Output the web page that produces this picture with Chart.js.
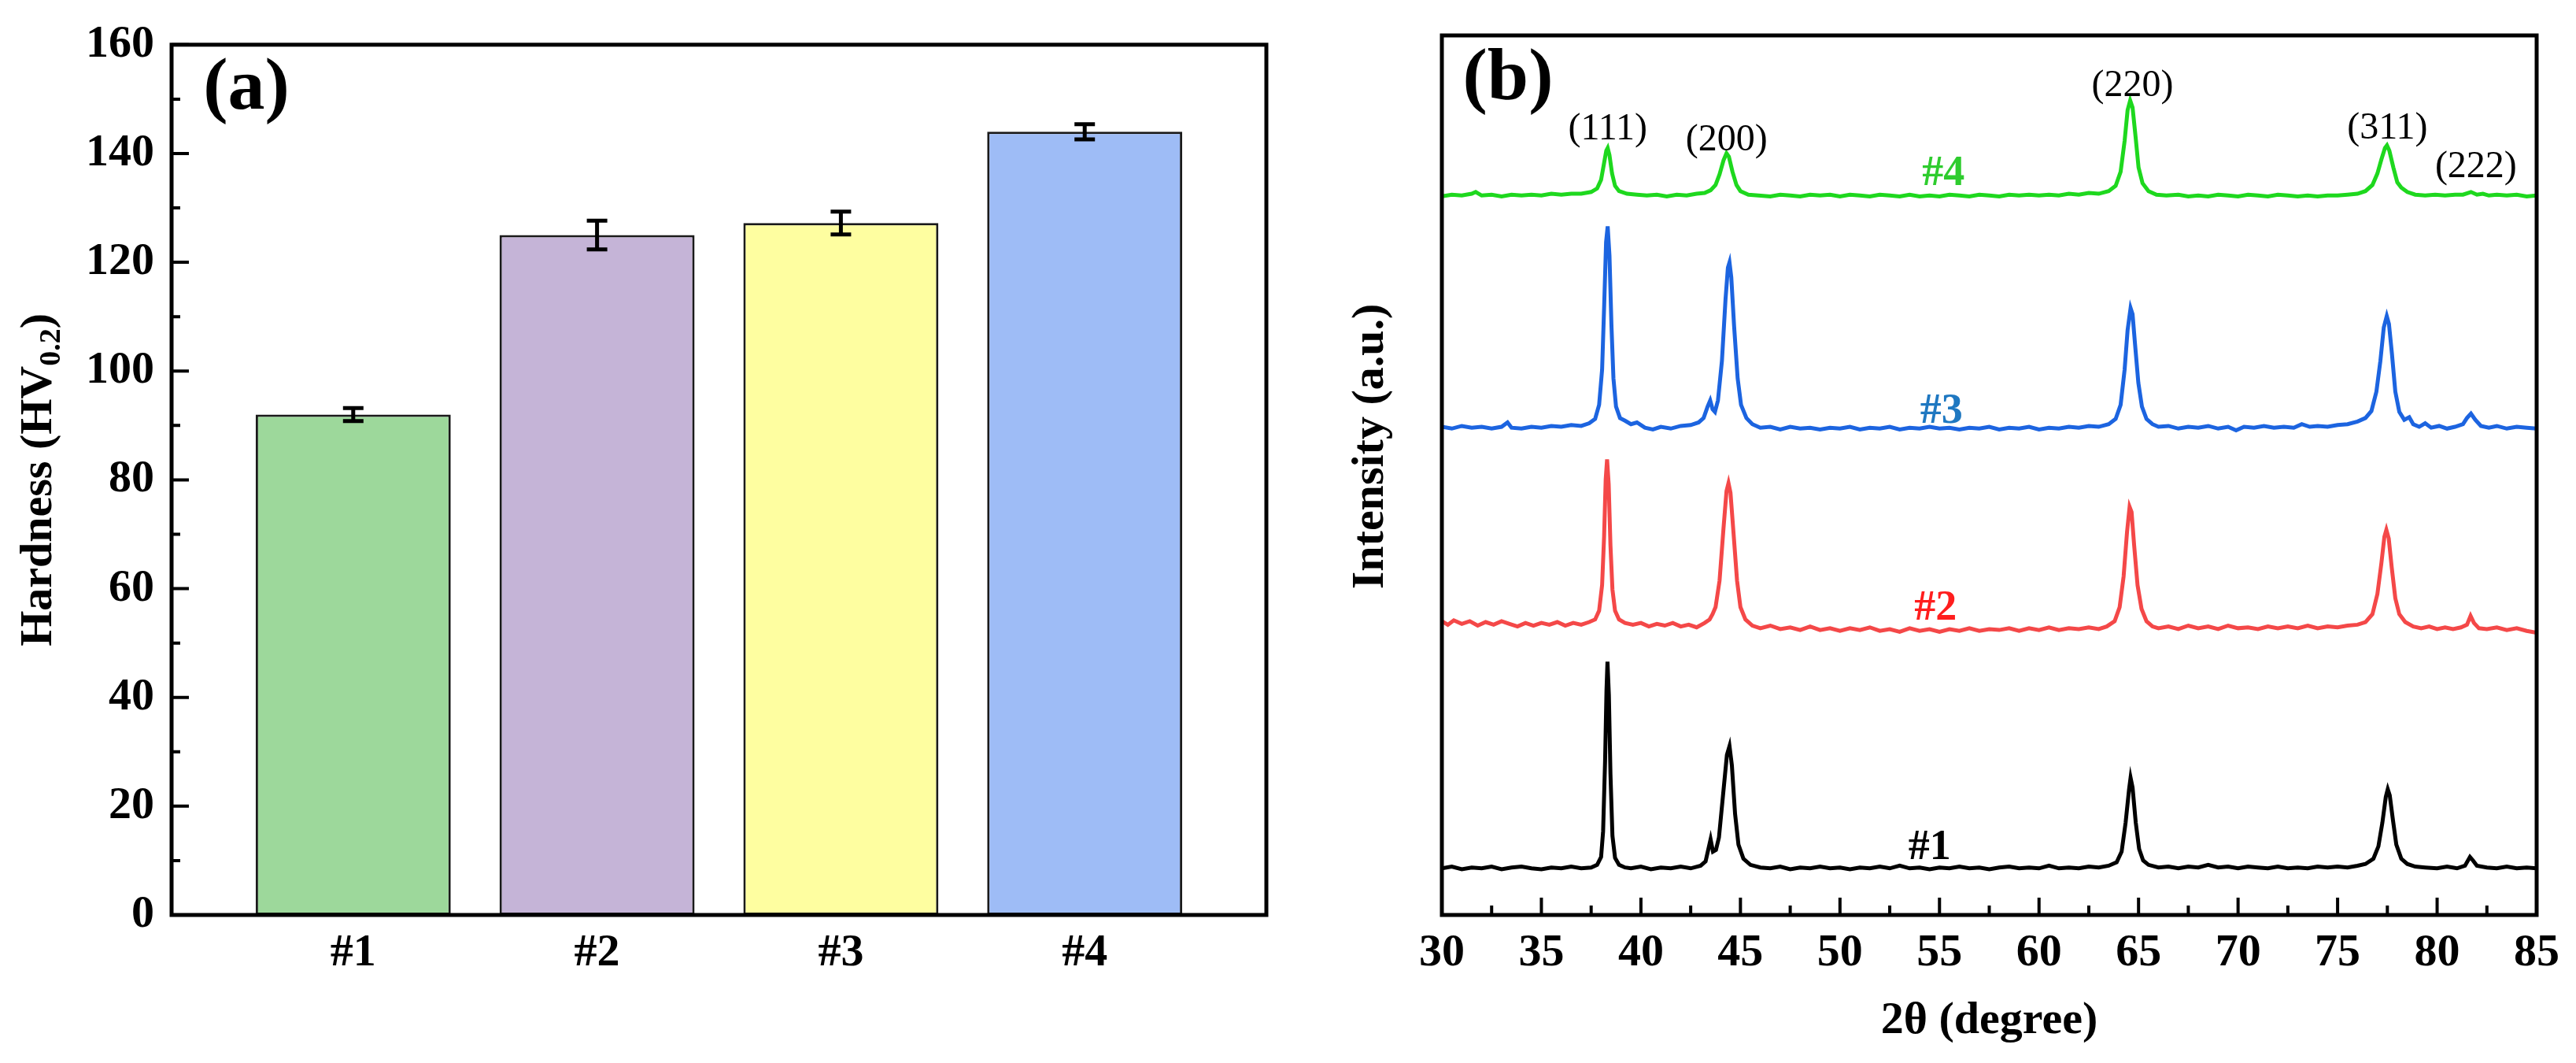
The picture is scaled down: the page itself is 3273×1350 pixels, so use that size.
<!DOCTYPE html>
<html>
<head>
<meta charset="utf-8">
<script src="https://cdn.jsdelivr.net/npm/chart.js@4.4.0/dist/chart.umd.min.js"></script>
<style>
html,body{margin:0;padding:0;background:#fff;width:3273px;height:1350px;overflow:hidden}
#wa{position:absolute;left:0;top:0;width:1636px;height:1350px}
#wb{position:absolute;left:1636px;top:0;width:1637px;height:1350px}
</style>
</head>
<body>
<div id="wa"><canvas id="ca" width="1636" height="1350"></canvas></div>
<div id="wb"><canvas id="cb" width="1637" height="1350"></canvas></div>
<script>
// ---------- Panel (a) data ----------
const categories = ['#1', '#2', '#3', '#4'];
const hardness = [92, 125, 127.2, 144];
const hardnessErr = [1.2, 2.65, 2.1, 1.4];
const barColors = ['#9dd89b', '#c5b4d7', '#fefea0', '#9ebcf6'];

// ---------- Panel (b) data : [2theta, intensity (a.u., offset)] ----------
const xrd1 = [[30,5.3],[30.5,5.5],[31,5.2],[31.5,5.4],[32,5.3],[32.5,5.5],[33,5.2],[33.5,5.4],[34,5.5],[34.5,5.3],[35,5.2],[35.5,5.4],[36,5.3],[36.5,5.5],[37,5.3],[37.5,5.4],[37.8,5.7],[38.0,6.6],[38.1,9.5],[38.2,17.5],[38.27,25.5],[38.32,28.8],[38.39,25],[38.47,16],[38.57,9],[38.7,6.5],[38.9,5.7],[39.2,5.4],[39.5,5.3],[40,5.5],[40.5,5.2],[41,5.4],[41.5,5.3],[42,5.5],[42.5,5.3],[43,5.6],[43.25,6.1],[43.4,7.6],[43.5,8.6],[43.62,7.2],[43.77,7.4],[43.92,8.8],[44.12,13.5],[44.32,18.2],[44.45,19.2],[44.57,17.0],[44.73,11.5],[44.9,8],[45.15,6.4],[45.5,5.7],[46,5.4],[46.5,5.3],[47,5.5],[47.5,5.2],[48,5.4],[48.5,5.3],[49,5.5],[49.5,5.3],[50,5.4],[50.5,5.2],[51,5.4],[51.5,5.3],[52,5.5],[52.5,5.3],[53,5.6],[53.5,5.3],[54,5.4],[54.5,5.2],[55,5.4],[55.5,5.3],[56,5.5],[56.5,5.3],[57,5.4],[57.5,5.2],[58,5.4],[58.5,5.5],[59,5.3],[59.5,5.4],[60,5.3],[60.5,5.6],[61,5.3],[61.5,5.4],[62,5.3],[62.5,5.5],[63,5.4],[63.5,5.6],[63.9,6.0],[64.15,7.2],[64.35,10.5],[64.52,14.2],[64.6,15.6],[64.7,14.5],[64.86,10.5],[65.03,7.5],[65.23,6.2],[65.5,5.7],[66,5.4],[66.5,5.5],[67,5.3],[67.5,5.5],[68,5.4],[68.5,5.7],[69,5.4],[69.5,5.5],[70,5.3],[70.5,5.5],[71,5.4],[71.5,5.3],[72,5.5],[72.5,5.3],[73,5.4],[73.5,5.3],[74,5.5],[74.5,5.4],[75,5.5],[75.5,5.4],[76,5.6],[76.4,5.8],[76.8,6.4],[77.05,7.8],[77.25,10.5],[77.42,13.4],[77.52,14.3],[77.62,13.6],[77.78,10.8],[77.95,8],[78.2,6.4],[78.5,5.8],[78.9,5.5],[79.4,5.4],[80,5.3],[80.5,5.5],[81,5.3],[81.4,5.6],[81.65,6.6],[81.8,6.2],[82.0,5.6],[82.5,5.4],[83,5.3],[83.5,5.5],[84,5.3],[84.5,5.4],[85,5.3]];

const xrd2 = [[30,33.4],[30.3,33.0],[30.6,33.5],[31,33.1],[31.4,33.4],[31.8,32.9],[32.2,33.3],[32.6,33.0],[33,33.4],[33.4,33.1],[33.8,32.8],[34.2,33.2],[34.6,32.9],[35,33.2],[35.4,33.0],[35.8,33.3],[36.2,32.9],[36.6,33.2],[37,33.0],[37.4,33.3],[37.7,33.6],[37.9,34.6],[38.05,37.5],[38.15,43],[38.23,49.5],[38.3,51.8],[38.38,49],[38.47,42],[38.57,37],[38.7,34.6],[38.9,33.6],[39.2,33.2],[39.6,33.0],[40,33.2],[40.4,32.8],[40.8,33.1],[41.2,32.9],[41.6,33.2],[42,32.8],[42.4,33.0],[42.8,32.7],[43.2,33.2],[43.45,33.6],[43.6,34.2],[43.75,35.0],[43.95,38],[44.15,44],[44.3,48.2],[44.4,49.1],[44.5,48],[44.65,43.5],[44.83,38],[45.0,35],[45.25,33.6],[45.6,32.9],[46,32.6],[46.5,32.9],[47,32.5],[47.5,32.7],[48,32.4],[48.5,32.8],[49,32.4],[49.5,32.6],[50,32.3],[50.5,32.6],[51,32.4],[51.5,32.7],[52,32.3],[52.5,32.5],[53,32.2],[53.5,32.6],[54,32.3],[54.5,32.5],[55,32.2],[55.5,32.5],[56,32.3],[56.5,32.6],[57,32.3],[57.5,32.5],[58,32.4],[58.5,32.6],[59,32.3],[59.5,32.6],[60,32.4],[60.5,32.7],[61,32.4],[61.5,32.6],[62,32.5],[62.5,32.7],[63,32.5],[63.4,32.8],[63.8,33.4],[64.05,35],[64.25,38.5],[64.42,43.5],[64.55,46.4],[64.65,45.8],[64.78,42],[64.95,37.5],[65.15,34.8],[65.4,33.4],[65.7,32.8],[66,32.6],[66.5,32.8],[67,32.5],[67.5,32.9],[68,32.6],[68.5,32.8],[69,32.5],[69.5,32.9],[70,32.6],[70.5,32.7],[71,32.5],[71.5,32.8],[72,32.6],[72.5,32.8],[73,32.6],[73.5,32.9],[74,32.6],[74.5,32.8],[75,32.7],[75.5,32.9],[76,33.0],[76.4,33.3],[76.75,34.2],[77.0,36.5],[77.2,40],[77.35,43],[77.45,43.8],[77.57,42.8],[77.72,39.5],[77.9,36],[78.1,34.2],[78.4,33.3],[78.8,32.8],[79.2,32.6],[79.6,32.8],[80,32.5],[80.4,32.7],[80.8,32.5],[81.2,32.7],[81.5,33.0],[81.68,34.0],[81.85,33.2],[82.1,32.6],[82.5,32.5],[83,32.7],[83.5,32.4],[84,32.6],[84.5,32.3],[85,32.1]];

const xrd3 = [[30,55.5],[30.5,55.3],[31,55.6],[31.5,55.4],[32,55.5],[32.5,55.3],[33,55.5],[33.3,56.0],[33.5,55.4],[34,55.3],[34.5,55.5],[35,55.4],[35.5,55.6],[36,55.5],[36.5,55.7],[37,55.6],[37.4,55.9],[37.7,56.4],[37.9,58],[38.05,62],[38.15,69],[38.25,76.5],[38.33,78.3],[38.42,75],[38.52,67],[38.62,61],[38.75,57.8],[38.95,56.5],[39.2,56.2],[39.5,55.8],[39.8,56.0],[40.2,55.4],[40.6,55.2],[41,55.5],[41.5,55.3],[42,55.6],[42.5,55.7],[42.9,56.0],[43.15,56.5],[43.35,57.8],[43.48,58.5],[43.6,57.5],[43.72,57.2],[43.87,58.5],[44.07,63],[44.25,70],[44.37,73.6],[44.45,74.2],[44.54,72.5],[44.68,67],[44.86,61],[45.03,58],[45.3,56.5],[45.6,55.8],[46,55.4],[46.5,55.5],[47,55.2],[47.5,55.5],[48,55.3],[48.5,55.4],[49,55.2],[49.5,55.4],[50,55.3],[50.5,55.5],[51,55.2],[51.5,55.4],[52,55.3],[52.5,55.5],[53,55.2],[53.5,55.4],[54,55.3],[54.5,55.5],[55,55.3],[55.5,55.4],[56,55.2],[56.5,55.4],[57,55.3],[57.5,55.5],[58,55.2],[58.5,55.4],[59,55.3],[59.5,55.5],[60,55.2],[60.5,55.4],[61,55.3],[61.5,55.5],[62,55.4],[62.5,55.6],[63,55.5],[63.5,55.8],[63.85,56.4],[64.1,58],[64.3,62],[64.45,66.5],[64.6,69],[64.7,68.3],[64.82,65],[64.99,60.5],[65.17,57.8],[65.4,56.4],[65.7,55.8],[66,55.5],[66.5,55.6],[67,55.3],[67.5,55.5],[68,55.4],[68.5,55.6],[69,55.3],[69.5,55.5],[69.9,55.1],[70.3,55.5],[70.8,55.4],[71.3,55.6],[71.8,55.4],[72.3,55.5],[72.8,55.4],[73.2,55.8],[73.6,55.5],[74,55.6],[74.5,55.5],[75,55.7],[75.5,55.8],[76,56.1],[76.4,56.5],[76.7,57.3],[76.95,59.5],[77.15,63],[77.32,66.8],[77.47,68.1],[77.58,67.2],[77.73,63.8],[77.9,59.5],[78.1,57.2],[78.35,56.3],[78.6,56.6],[78.8,55.8],[79.1,55.5],[79.4,55.9],[79.7,55.4],[80.1,55.6],[80.5,55.3],[80.9,55.5],[81.3,55.8],[81.5,56.5],[81.7,57.0],[81.92,56.3],[82.2,55.6],[82.6,55.4],[83,55.6],[83.5,55.3],[84,55.5],[84.5,55.4],[85,55.3]];

const xrd4 = [[30,81.7],[30.5,81.9],[31,81.8],[31.5,82.0],[31.7,82.2],[32,81.8],[32.5,81.9],[33,81.7],[33.5,81.9],[34,81.8],[34.5,81.9],[35,81.8],[35.5,82.0],[36,81.9],[36.5,82.0],[37,82.0],[37.5,82.2],[37.8,82.6],[38.0,83.6],[38.15,85.5],[38.26,86.9],[38.33,87.2],[38.42,86.4],[38.55,84.3],[38.7,82.9],[38.9,82.3],[39.3,82.0],[39.8,81.9],[40.3,81.8],[40.8,81.9],[41.3,81.7],[41.8,81.9],[42.3,81.8],[42.8,82.0],[43.2,82.1],[43.5,82.4],[43.75,83.0],[43.95,84.2],[44.15,85.8],[44.3,86.6],[44.42,86.2],[44.6,84.5],[44.8,83.0],[45.0,82.3],[45.4,81.9],[45.9,81.8],[46.5,81.7],[47,81.9],[47.5,81.8],[48,81.7],[48.5,81.9],[49,81.8],[49.5,81.9],[50,81.7],[50.5,81.9],[51,81.8],[51.5,81.7],[52,81.9],[52.5,81.8],[53,81.7],[53.5,81.9],[54,81.7],[54.5,81.8],[55,81.7],[55.5,81.9],[56,81.8],[56.5,81.7],[57,81.9],[57.5,81.8],[58,81.7],[58.5,81.9],[59,81.8],[59.5,81.9],[60,81.8],[60.5,81.9],[61,81.8],[61.5,82.0],[62,81.9],[62.5,82.1],[63,82.0],[63.5,82.3],[63.85,82.9],[64.1,84.5],[64.3,88],[64.45,91.5],[64.58,92.6],[64.7,91.8],[64.85,88.5],[65.0,85],[65.2,83.2],[65.5,82.3],[65.9,81.9],[66.4,81.8],[67,81.9],[67.5,81.7],[68,81.8],[68.5,81.7],[69,81.9],[69.5,81.8],[70,81.7],[70.5,81.9],[71,81.8],[71.5,81.7],[72,81.9],[72.5,81.8],[73,81.7],[73.5,81.8],[74,81.7],[74.5,81.8],[75,81.8],[75.5,81.9],[76,82.0],[76.4,82.3],[76.75,83.0],[77.0,84.3],[77.2,85.9],[77.38,87.2],[77.48,87.5],[77.6,86.9],[77.8,85],[78.0,83.3],[78.2,82.7],[78.5,82.2],[78.9,81.9],[79.4,81.8],[79.9,81.9],[80.4,81.8],[80.9,81.9],[81.3,81.9],[81.7,82.2],[82.0,81.9],[82.3,82.0],[82.6,81.8],[83,81.9],[83.5,81.8],[84,81.9],[84.5,81.7],[85,81.8]];

const sampleNames = ['#1', '#2', '#3', '#4'];
const planeLabels = ['(111)', '(200)', '(220)', '(311)', '(222)'];
const xTickRange = [30, 85, 5];

// ---------- styling / placement (not data) ----------
const FONT = "'Liberation Serif','Times New Roman',Times,serif";
const lineColors = ['#000000', '#f44848', '#1c64e0', '#1ed81e'];
const nameColors = ['#000000', '#ff1e1e', '#1f78c1', '#2ecc2e'];
const namePos = [[54.5, 7.6], [54.8, 34.8], [55.1, 57.2], [55.2, 84.2]];
const planePos = [[38.33, 89.3], [44.3, 88.1], [64.7, 94.2], [77.5, 89.4], [81.95, 85.0]];

function drawRotTitle(ctx, cx, cy, main, sub, tail, size) {
  ctx.save();
  ctx.translate(cx, cy);
  ctx.rotate(-Math.PI / 2);
  ctx.fillStyle = '#000';
  ctx.textBaseline = 'middle';
  ctx.textAlign = 'left';
  const fM = 'bold ' + size + 'px ' + FONT;
  const fS = 'bold ' + Math.round(size * 0.65) + 'px ' + FONT;
  ctx.font = fM; const w1 = ctx.measureText(main).width; const w3 = tail ? ctx.measureText(tail).width : 0;
  ctx.font = fS; const w2 = sub ? ctx.measureText(sub).width : 0;
  let x = -(w1 + w2 + w3) / 2;
  ctx.font = fM; ctx.fillText(main, x, 0); x += w1;
  if (sub) { ctx.font = fS; ctx.fillText(sub, x, size * 0.28); x += w2; }
  if (tail) { ctx.font = fM; ctx.fillText(tail, x, 0); }
  ctx.restore();
}

const panelA = {
  id: 'panelA',
  afterDatasetsDraw(chart) {
    const { ctx, scales: { x, y } } = chart;
    ctx.save();
    ctx.strokeStyle = '#000';
    ctx.lineWidth = 5;
    hardness.forEach((v, i) => {
      const px = x.getPixelForValue(i + 1);
      const t = y.getPixelForValue(v + hardnessErr[i]);
      const b = y.getPixelForValue(v - hardnessErr[i]);
      ctx.beginPath();
      ctx.moveTo(px, t); ctx.lineTo(px, b);
      ctx.moveTo(px - 13, t); ctx.lineTo(px + 13, t);
      ctx.moveTo(px - 13, b); ctx.lineTo(px + 13, b);
      ctx.stroke();
    });
    ctx.restore();
  },
  afterDraw(chart) {
    const { ctx, chartArea: a, scales: { y } } = chart;
    ctx.save();
    ctx.strokeStyle = '#000';
    ctx.lineWidth = 5;
    ctx.strokeRect(a.left, a.top, a.right - a.left, a.bottom - a.top);
    ctx.lineWidth = 4;
    ctx.beginPath();
    for (let v = y.min; v <= y.max; v += 10) {
      const py = y.getPixelForValue(v);
      const len = (v % 20 === 0) ? 22 : 11;
      ctx.moveTo(a.left, py); ctx.lineTo(a.left + len, py);
    }
    ctx.stroke();
    ctx.fillStyle = '#000';
    ctx.font = 'bold 94px ' + FONT;
    ctx.textAlign = 'center'; ctx.textBaseline = 'middle';
    ctx.fillText('(a)', a.left + 95, a.top + 57);
    drawRotTitle(ctx, 50, (a.top + a.bottom) / 2, 'Hardness (HV', '0.2', ')', 58);
    ctx.restore();
  }
};

const panelB = {
  id: 'panelB',
  afterDraw(chart) {
    const { ctx, chartArea: a, scales: { x, y } } = chart;
    ctx.save();
    ctx.strokeStyle = '#000';
    ctx.lineWidth = 5;
    ctx.strokeRect(a.left, a.top, a.right - a.left, a.bottom - a.top);
    ctx.lineWidth = 4;
    ctx.beginPath();
    for (let v = xTickRange[0]; v <= xTickRange[1]; v += xTickRange[2] / 2) {
      const px = x.getPixelForValue(v);
      const len = (v % 5 === 0) ? 22 : 12;
      ctx.moveTo(px, a.bottom); ctx.lineTo(px, a.bottom - len);
    }
    ctx.stroke();
    ctx.textAlign = 'center'; ctx.textBaseline = 'middle';
    ctx.font = 'bold 54px ' + FONT;
    sampleNames.forEach((n, i) => {
      ctx.fillStyle = nameColors[i];
      ctx.fillText(n, x.getPixelForValue(namePos[i][0]), y.getPixelForValue(namePos[i][1]));
    });
    ctx.fillStyle = '#000';
    ctx.font = '48px ' + FONT;
    planeLabels.forEach((p, i) => {
      ctx.fillText(p, x.getPixelForValue(planePos[i][0]), y.getPixelForValue(planePos[i][1]));
    });
    ctx.font = 'bold 94px ' + FONT;
    ctx.fillText('(b)', a.left + 84, a.top + 57);
    ctx.font = 'bold 58px ' + FONT;
    ctx.fillText('2θ (degree)', (a.left + a.right) / 2, 1297);
    drawRotTitle(ctx, 106, 567, 'Intensity (a.u.)', '', '', 58);
    ctx.restore();
  }
};

function build() {
  new Chart(document.getElementById('ca'), {
    type: 'bar',
    data: {
      datasets: [{
        data: hardness.map((v, i) => ({ x: i + 1, y: v })),
        backgroundColor: barColors,
        borderColor: '#1a1a1a',
        borderWidth: 3,
        borderSkipped: false,
        barPercentage: 0.8,
        categoryPercentage: 1.0
      }]
    },
    options: {
      responsive: false, devicePixelRatio: 1, animation: false, events: [],
      layout: { padding: { top: 45, right: 27, left: 0, bottom: 0 } },
      plugins: { legend: { display: false }, tooltip: { enabled: false } },
      scales: {
        x: {
          type: 'linear', min: 0.255, max: 4.745, offset: false,
          afterBuildTicks: s => { s.ticks = categories.map((c, i) => ({ value: i + 1 })); },
          ticks: { callback: v => categories[Math.round(v) - 1], font: { family: FONT, size: 58, weight: 'bold' }, color: '#000', padding: 14, maxRotation: 0, autoSkip: false },
          grid: { display: false, drawTicks: false, offset: false }, border: { display: false },
          afterFit: s => { s.height = 188; }
        },
        y: {
          min: 0, max: 160,
          ticks: { stepSize: 20, font: { family: FONT, size: 58, weight: 'bold' }, color: '#000', padding: 22 },
          grid: { display: false, drawTicks: false }, border: { display: false },
          afterFit: s => { s.width = 218; }
        }
      }
    },
    plugins: [panelA]
  });

  const series = [xrd1, xrd2, xrd3, xrd4];
  new Chart(document.getElementById('cb'), {
    type: 'line',
    data: {
      datasets: series.map((d, i) => ({
        data: d.map(p => ({ x: p[0], y: p[1] })),
        borderColor: lineColors[i], borderWidth: 5, pointRadius: 0, tension: 0, fill: false
      }))
    },
    options: {
      responsive: false, devicePixelRatio: 1, animation: false, events: [],
      layout: { padding: { top: 45, right: 50, left: 196, bottom: 0 } },
      plugins: { legend: { display: false }, tooltip: { enabled: false } },
      scales: {
        x: {
          type: 'linear', min: xTickRange[0], max: xTickRange[1],
          ticks: { stepSize: xTickRange[2], font: { family: FONT, size: 58, weight: 'bold' }, color: '#000', padding: 14, maxRotation: 0, autoSkip: false },
          grid: { display: false, drawTicks: false }, border: { display: false },
          afterFit: s => { s.height = 188; }
        },
        y: { min: 0, max: 100, display: false }
      }
    },
    plugins: [panelB]
  });
}

if (document.fonts && document.fonts.load) {
  Promise.all([
    document.fonts.load('bold 58px "Liberation Serif"'),
    document.fonts.load('48px "Liberation Serif"')
  ]).then(build, build);
} else { build(); }
</script>
</body>
</html>
